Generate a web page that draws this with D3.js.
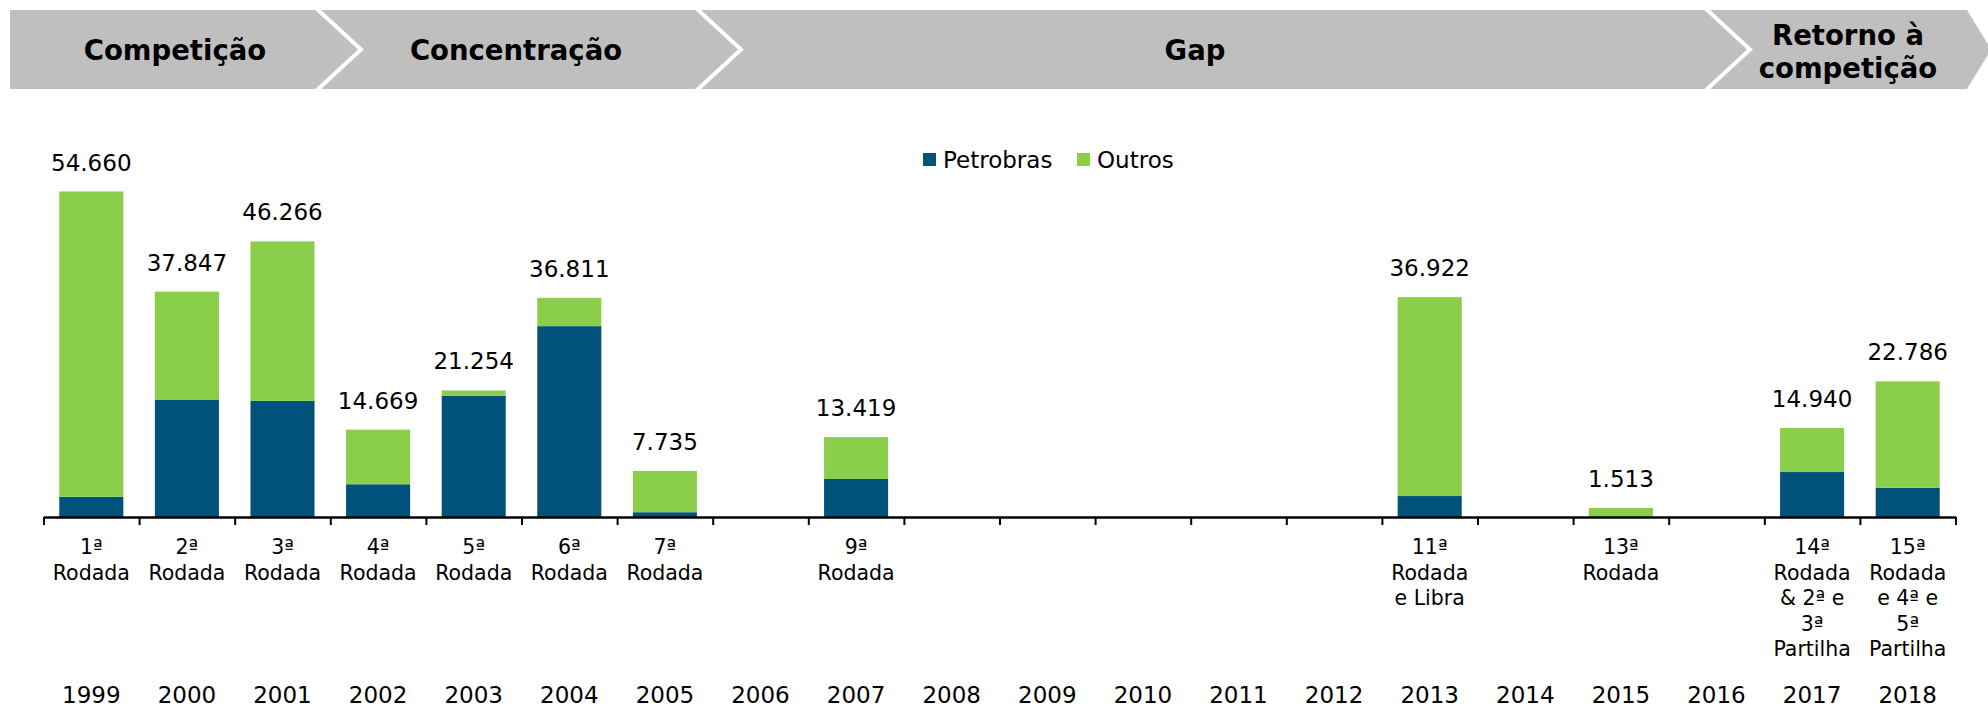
<!DOCTYPE html>
<html>
<head>
<meta charset="utf-8">
<script src="https://cdn.jsdelivr.net/npm/d3@7"></script>
<style>
  html, body { margin: 0; padding: 0; background: #ffffff; }
  svg { display: block; }
</style>
</head>
<body>
<svg id="chart" width="1988" height="707"></svg>
<script>
// ---------------- DATA ----------------
const years = ["1999","2000","2001","2002","2003","2004","2005","2006","2007","2008",
               "2009","2010","2011","2012","2013","2014","2015","2016","2017","2018"];
const petrobras = [3400, 19730, 19500, 5500, 20340, 32050, 800, 0, 6400, 0,
                   0, 0, 0, 0, 3520, 0, 0, 0, 7550, 4900];
const outros    = [51260, 18117, 26766, 9169, 914, 4761, 6935, 0, 7019, 0,
                   0, 0, 0, 0, 33402, 0, 1513, 0, 7390, 17886];
const totals    = [54660, 37847, 46266, 14669, 21254, 36811, 7735, 0, 13419, 0,
                   0, 0, 0, 0, 36922, 0, 1513, 0, 14940, 22786];
const roundLabels = [
  ["1ª","Rodada"],["2ª","Rodada"],["3ª","Rodada"],["4ª","Rodada"],["5ª","Rodada"],
  ["6ª","Rodada"],["7ª","Rodada"],[],["9ª","Rodada"],[],
  [],[],[],[],["11ª","Rodada","e Libra"],[],["13ª","Rodada"],[],
  ["14ª","Rodada","& 2ª e","3ª","Partilha"],["15ª","Rodada","e 4ª e","5ª","Partilha"]
];
const seriesNames = ["Petrobras","Outros"];
const phases = [
  {name: ["Competição"], from: "1999", to: "2001"},
  {name: ["Concentração"], from: "2002", to: "2005"},
  {name: ["Gap"], from: "2006", to: "2016"},
  {name: ["Retorno à","competição"], from: "2017", to: "2018"}
];

// ---------------- STYLE / LAYOUT ----------------
const colors = {Petrobras: "#00527a", Outros: "#8ace4a"};
const svg = d3.select("#chart");
const fontFamily = "'DejaVu Sans', Verdana, sans-serif";

const axisY = 517;
const x = d3.scaleBand().domain(years).range([43.5, 1955.5]).paddingInner(0.33).paddingOuter(0.165);
const xTick = d3.scaleLinear().domain([0, years.length]).range([43.5, 1955.5]);
const y = d3.scaleLinear().domain([0, 54660]).range([axisY, 191.5]);

// ---------------- BANNER ----------------
const bTop = 10, bBot = 89, bMid = (bTop + bBot) / 2, depth = 45;
const phaseEdges = [316, 696, 1705, 1967];
const banner = svg.append("g");
banner.append("path")
  .attr("d", `M10,${bTop} L${phaseEdges[3]},${bTop} L${phaseEdges[3] + 24},${bMid} L${phaseEdges[3]},${bBot} L10,${bBot} Z`)
  .attr("fill", "#bfbfbf");
phaseEdges.slice(0, 3).forEach(e => {
  banner.append("path")
    .attr("d", `M${e},${bTop - 2} L${e + depth},${bMid} L${e},${bBot + 2}`)
    .attr("fill", "none").attr("stroke", "#ffffff").attr("stroke-width", 4);
});
const phaseCenters = [175, 516, 1195, 1848];
phases.forEach((p, i) => {
  const t = banner.append("text")
    .attr("x", phaseCenters[i])
    .attr("text-anchor", "middle")
    .attr("font-family", fontFamily)
    .attr("font-weight", "bold")
    .attr("font-size", 27.5)
    .attr("fill", "#000");
  const lh = 33;
  const y0 = p.name.length > 1 ? 45 : 60;
  p.name.forEach((line, k) => {
    t.append("tspan").attr("x", phaseCenters[i]).attr("y", y0 + k * lh).text(line);
  });
});

// ---------------- LEGEND ----------------
const legendX = [923, 1077];
const legend = svg.append("g");
seriesNames.forEach((s, i) => {
  legend.append("rect").attr("x", legendX[i]).attr("y", 153).attr("width", 13).attr("height", 13)
    .attr("fill", colors[s]);
  legend.append("text").attr("x", legendX[i] + 20).attr("y", 168)
    .attr("font-family", fontFamily).attr("font-size", 23).attr("fill", "#000").text(s);
});

// ---------------- BARS ----------------
const rows = years.map((yr, i) => ({year: yr, Petrobras: petrobras[i], Outros: outros[i], total: totals[i], labels: roundLabels[i]}));
const stack = d3.stack().keys(seriesNames)(rows);
svg.append("g").selectAll("g").data(stack).join("g")
  .attr("fill", d => colors[d.key])
  .selectAll("rect").data(d => d.filter(v => v[1] - v[0] > 0)).join("rect")
  .attr("x", d => x(d.data.year))
  .attr("width", x.bandwidth())
  .attr("y", d => y(d[1]))
  .attr("height", d => y(d[0]) - y(d[1]));

// total labels
const fmt = d3.formatLocale({decimal: ",", thousands: ".", grouping: [3], currency: ["R$", ""]}).format(",d");
svg.append("g").selectAll("text").data(rows.filter(r => r.total > 0)).join("text")
  .attr("x", d => x(d.year) + x.bandwidth() / 2)
  .attr("y", d => y(d.Petrobras + d.Outros) - 21)
  .attr("text-anchor", "middle")
  .attr("font-family", fontFamily).attr("font-size", 23).attr("fill", "#000")
  .text(d => fmt(d.total));

// ---------------- AXIS ----------------
const axis = d3.axisBottom(xTick).tickValues(d3.range(0, years.length + 1)).tickFormat("").tickSize(8).tickSizeOuter(0);
const axG = svg.append("g").attr("transform", `translate(0,${axisY})`).call(axis);
axG.select(".domain").attr("stroke", "#000").attr("stroke-width", 2.5);
axG.selectAll(".tick line").attr("stroke", "#000").attr("stroke-width", 2);

// round labels
const catG = svg.append("g");
rows.forEach(r => {
  if (!r.labels.length) return;
  const t = catG.append("text")
    .attr("text-anchor", "middle")
    .attr("font-family", fontFamily).attr("font-size", 20.5).attr("fill", "#000");
  r.labels.forEach((line, k) => {
    t.append("tspan").attr("x", x(r.year) + x.bandwidth() / 2).attr("y", 554 + k * 25.5).text(line);
  });
});

// years
svg.append("g").selectAll("text").data(years).join("text")
  .attr("x", d => x(d) + x.bandwidth() / 2)
  .attr("y", 703)
  .attr("text-anchor", "middle")
  .attr("font-family", fontFamily).attr("font-size", 23).attr("fill", "#000")
  .text(d => d);
</script>
</body>
</html>
